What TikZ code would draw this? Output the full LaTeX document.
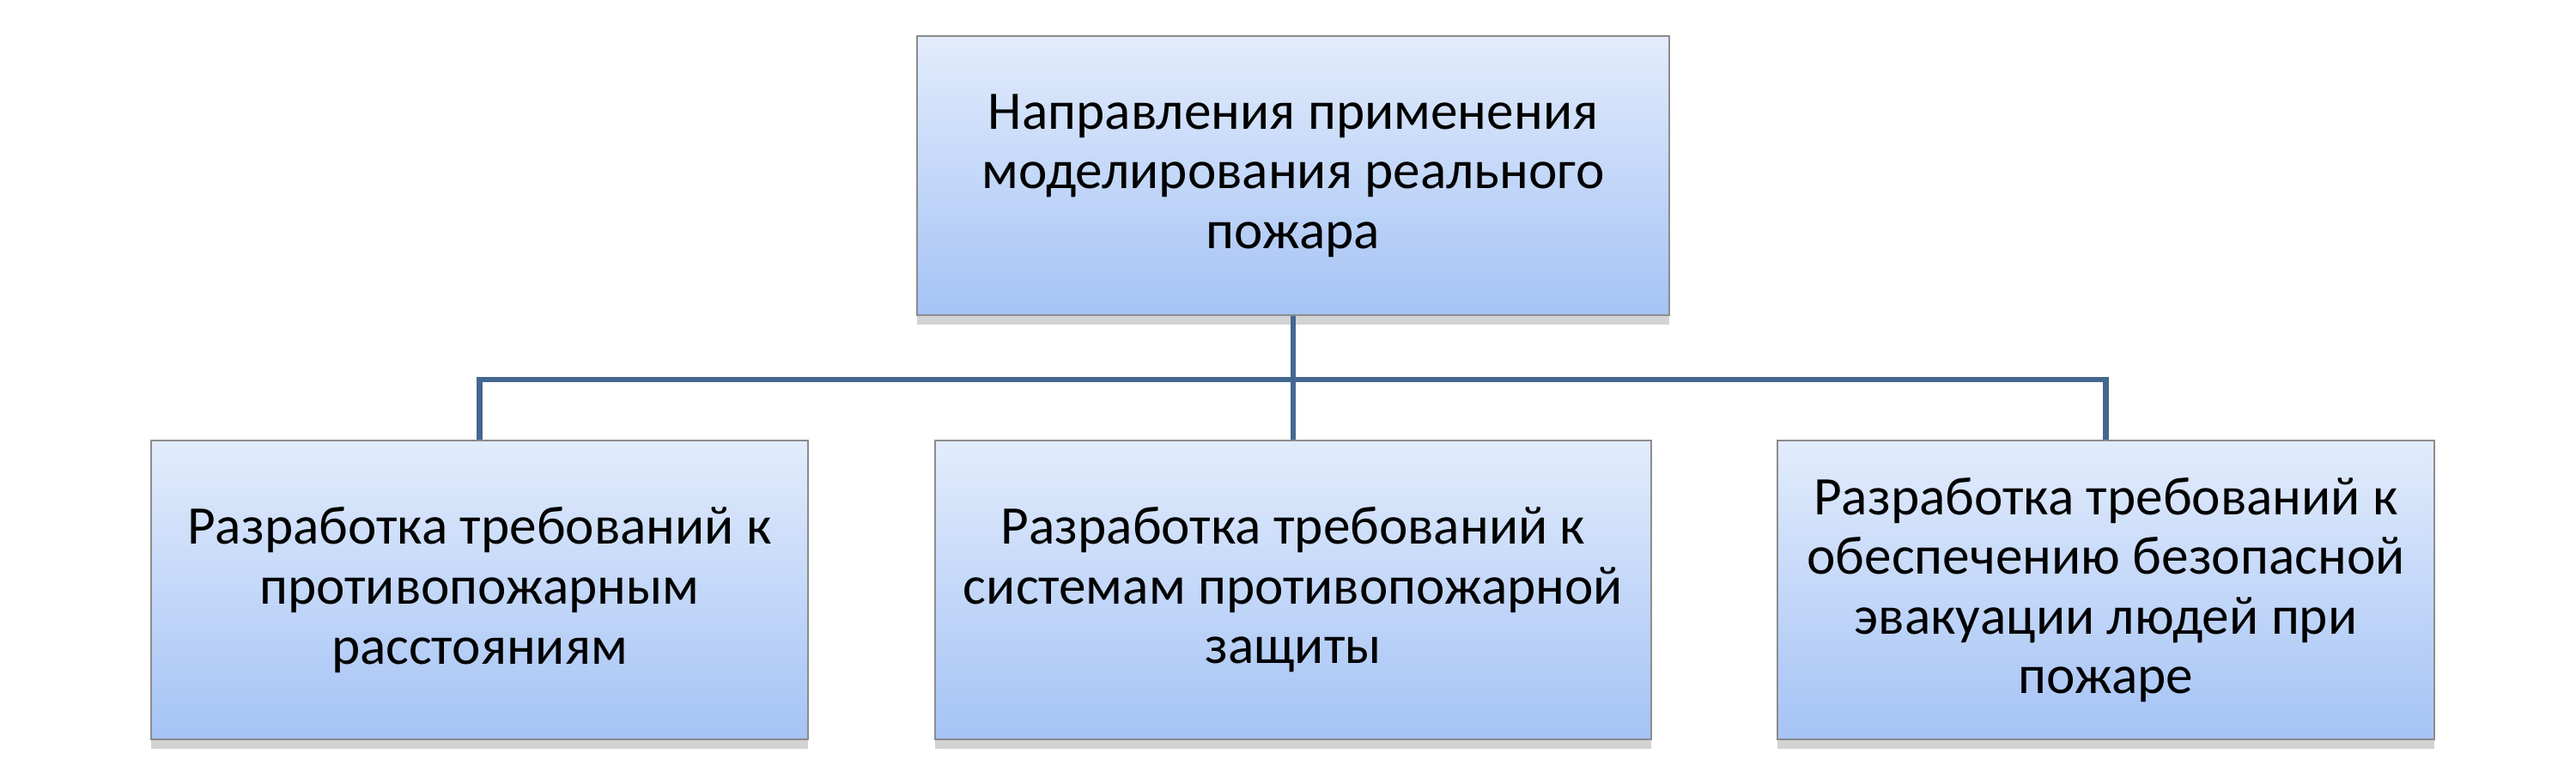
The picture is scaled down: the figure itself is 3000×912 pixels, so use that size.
\documentclass[tikz,border=0pt]{standalone}
\usepackage{fontspec}
\setmainfont{Carlito}
\usetikzlibrary{shadows}

\definecolor{boxtop}{HTML}{E2ECFC}
\definecolor{boxbot}{HTML}{A5C3F5}
\definecolor{linkblue}{HTML}{44678F}

\begin{document}
\begin{tikzpicture}
	 [x=0.01cm,y=-0.01cm,
	  every node/.style={rectangle,draw=black!45,line width=0.5pt,top color=boxtop,bottom color=boxbot,
	    align=center,font=\fontsize{18}{19.8}\selectfont,inner sep=0pt,minimum height=3.48cm,
	    drop shadow={shadow xshift=0pt,shadow yshift=-3pt,opacity=0.35}},
	  link/.style={draw=linkblue,line width=1.8pt}]
	\useasboundingbox (0,0) rectangle (3000,912);

	  \node (top)[minimum width=8.76cm,minimum height=3.25cm] at (1506,204.5)
	    {Направления применения\\моделирования реального\\пожара};

	  \node (a)[minimum width=7.65cm] at (558.5,687)
	    {Разработка требований к\\противопожарным\\расстояниям};
	  \node (b)[minimum width=8.34cm] at (1506,687)
	    {Разработка требований к\\системам противопожарной\\защиты};
	  \node (c)[minimum width=7.65cm] at (2452.5,687)
	    {Разработка требований к\\обеспечению безопасной\\эвакуации людей при\\пожаре};

	\coordinate (bus) at (1506,442);

	\foreach \to in {a,b,c}
    \draw[link] (top.south) -- (bus) -| (\to.north);

\end{tikzpicture}
\end{document}
